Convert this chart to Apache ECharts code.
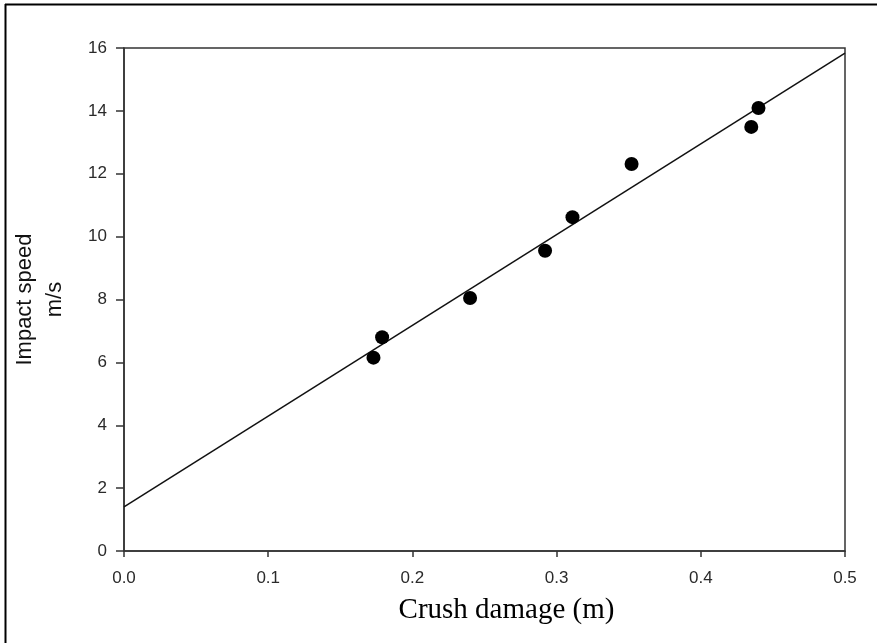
<!DOCTYPE html>
<html>
<head>
    <meta charset="utf-8">
    <title>Impact speed vs crush damage</title>
    <script type="text/javascript" src="https://cdn.jsdelivr.net/npm/echarts@6/dist/echarts.min.js"></script>
    <style>
        html, body { margin: 0; padding: 0; background: #fff; }
        #main { width: 877px; height: 643px; }
    </style>
</head>
<body>
    <div id="main"></div>
    <script type="text/javascript">
    // measured points (crush damage m, impact speed m/s)
    var crushDamage = [0.173, 0.179, 0.240, 0.292, 0.311, 0.352, 0.435, 0.440];
    var impactSpeed = [6.15, 6.80, 8.05, 9.55, 10.62, 12.31, 13.49, 14.09];
    // fitted line end points
    var fitX = [0.0, 0.5];
    var fitY = [1.40, 15.84];

    var points = crushDamage.map(function (x, i) { return [x, impactSpeed[i]]; });
    var fitLine = fitX.map(function (x, i) { return [x, fitY[i]]; });

    var myChart = echarts.init(document.getElementById('main'));

    var tickFont = {
        fontFamily: 'Liberation Sans, Arial, sans-serif',
        fontSize: 17,
        color: '#2a2a2a'
    };

    var option = {
        animation: false,
        backgroundColor: '#fff',
        grid: {
            left: 124, right: 32, top: 48, bottom: 92,
            show: true,
            borderColor: '#333',
            borderWidth: 1.5
        },
        xAxis: {
            type: 'value',
            min: 0, max: 0.5, interval: 0.1,
            name: 'Crush damage (m)',
            nameLocation: 'middle',
            nameGap: 45,
            nameTextStyle: {
                fontFamily: 'Liberation Serif, Times New Roman, serif',
                fontSize: 29,
                color: '#000',
                padding: [0, 0, 0, 44]
            },
            axisLine: { lineStyle: { color: '#333', width: 1.5 } },
            axisTick: { show: true, length: 6, inside: false, lineStyle: { color: '#333', width: 1.5 } },
            axisLabel: Object.assign({ margin: 19, formatter: function (v) { return v.toFixed(1); } }, tickFont),
            splitLine: { show: false }
        },
        yAxis: {
            type: 'value',
            min: 0, max: 16, interval: 2,
            name: 'Impact speed\nm/s',
            nameLocation: 'middle',
            nameGap: 54,
            nameRotate: 90,
            nameTextStyle: {
                fontFamily: 'Liberation Sans, Arial, sans-serif',
                fontSize: 22,
                lineHeight: 30,
                color: '#111'
            },
            axisLine: { lineStyle: { color: '#333', width: 1.5 } },
            axisTick: { show: true, length: 8, inside: false, lineStyle: { color: '#333', width: 1.5 } },
            axisLabel: Object.assign({ margin: 17 }, tickFont),
            splitLine: { show: false }
        },
        graphic: [
            { type: 'line', shape: { x1: 5, y1: 4.5, x2: 877, y2: 4.5 }, style: { stroke: '#000', lineWidth: 2 } },
            { type: 'line', shape: { x1: 5.5, y1: 4, x2: 5.5, y2: 643 }, style: { stroke: '#000', lineWidth: 2 } }
        ],
        series: [
            {
                type: 'line',
                data: fitLine,
                symbol: 'none',
                lineStyle: { color: '#111', width: 1.5 },
                z: 2
            },
            {
                type: 'scatter',
                data: points,
                symbol: 'circle',
                symbolSize: 14,
                itemStyle: { color: '#000', opacity: 1 },
                z: 3
            }
        ]
    };

    myChart.setOption(option);
    </script>
</body>
</html>
